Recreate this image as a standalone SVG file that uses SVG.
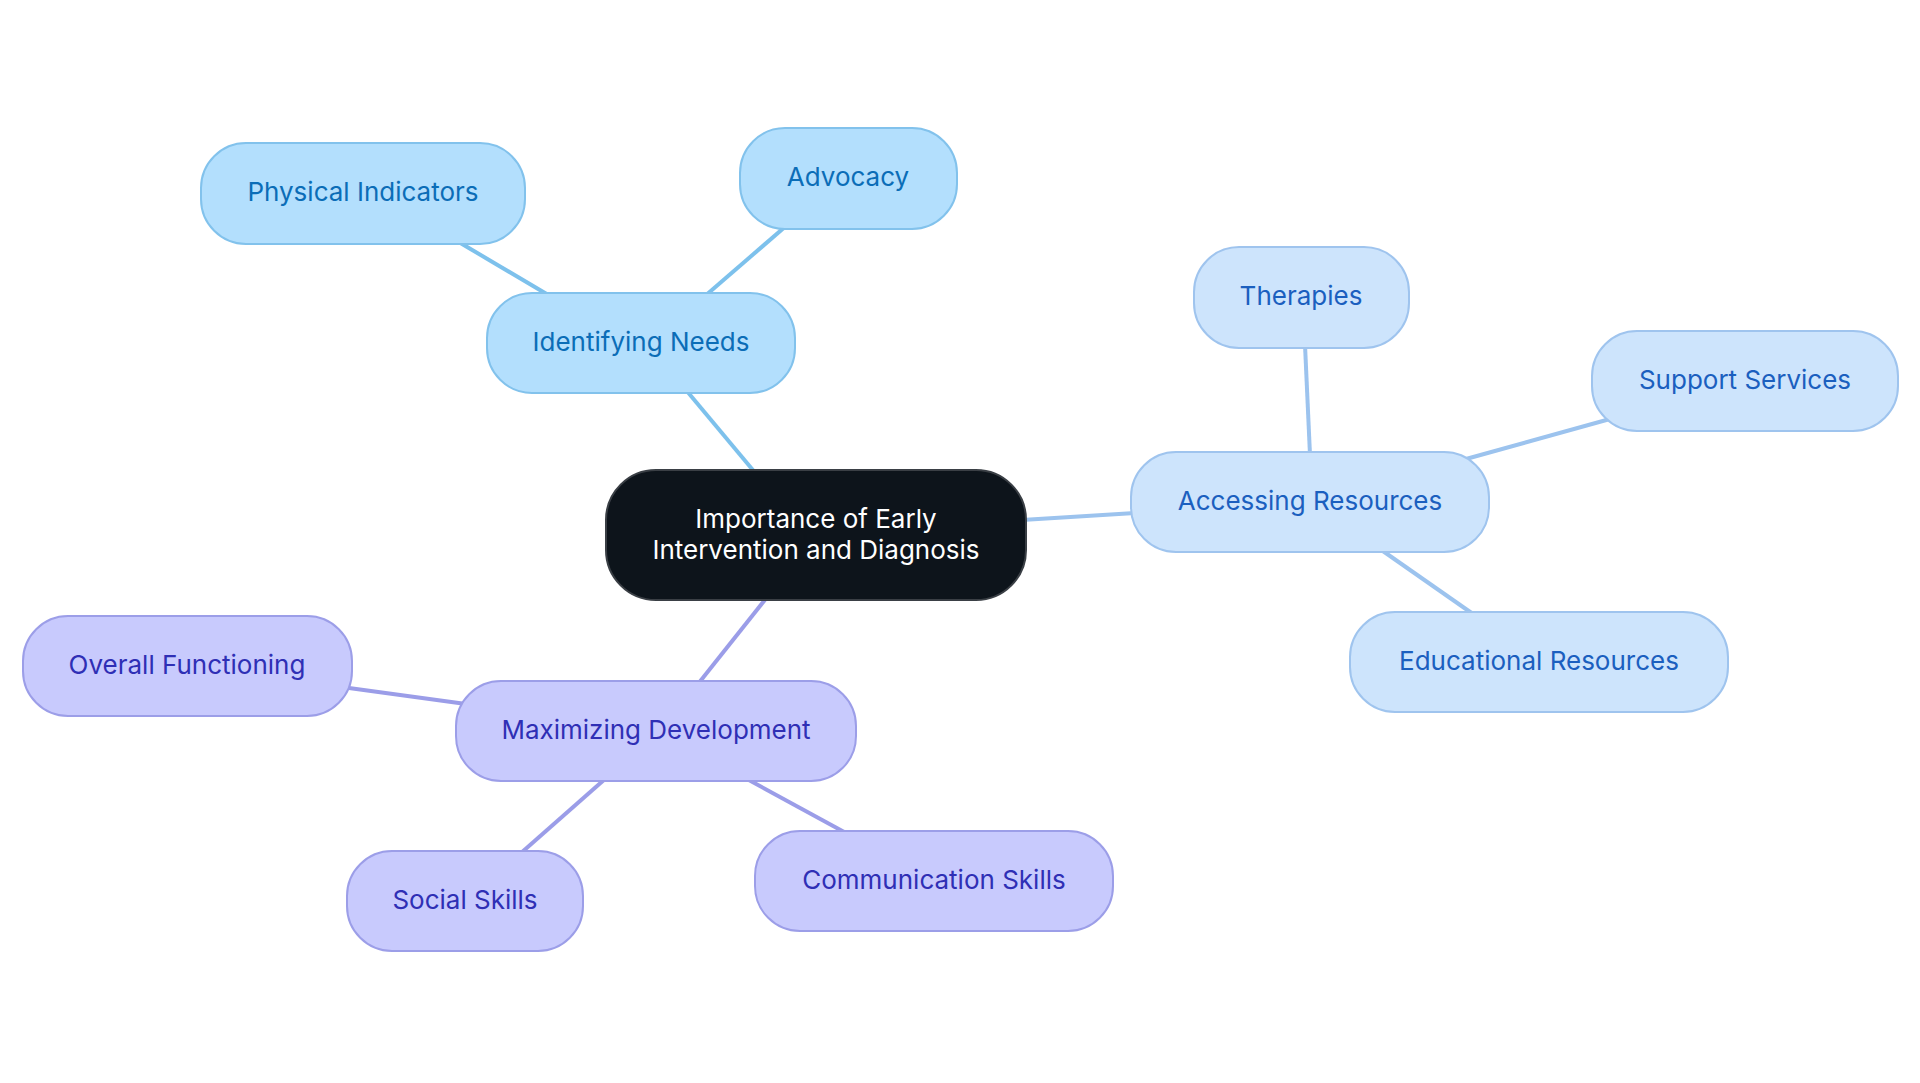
<svg xmlns="http://www.w3.org/2000/svg" width="1920" height="1083" viewBox="0 0 1920 1083">
<style>
text{font-family:Inter,"Noto Sans","Liberation Sans",sans-serif;font-size:26px;text-anchor:middle}
.b rect{fill:#b3dffd;stroke:#82c2ec;stroke-width:2}
.b text{fill:#0b6db7}
.a rect{fill:#cde4fc;stroke:#9fc4ee;stroke-width:2}
.a text{fill:#1b5fbf}
.p rect{fill:#c8cafd;stroke:#9c9ee8;stroke-width:2}
.p text{fill:#2f2fb5}
.eb{stroke:#7dc1ec}
.ea{stroke:#9cc3ee}
.ep{stroke:#9b9de8}
#connectors line{stroke-width:4;fill:none}
</style>
<rect width="1920" height="1083" fill="#ffffff"/>
<g id="connectors">
<line class="eb" x1="757" y1="475" x2="686" y2="390"/>
<line class="eb" x1="550" y1="296" x2="457" y2="241"/>
<line class="eb" x1="705" y1="296" x2="786" y2="226"/>
<line class="ea" x1="1022" y1="520" x2="1135" y2="513"/>
<line class="ea" x1="1310" y1="455" x2="1305" y2="345"/>
<line class="ea" x1="1466" y1="459" x2="1610" y2="419"/>
<line class="ea" x1="1380" y1="549" x2="1473" y2="614"/>
<line class="ep" x1="768" y1="596" x2="698" y2="684"/>
<line class="ep" x1="466" y1="704" x2="349" y2="688"/>
<line class="ep" x1="605" y1="779" x2="521" y2="853"/>
<line class="ep" x1="747" y1="779" x2="846" y2="833"/>
</g>
<g id="center">
<rect x="606" y="470" width="420" height="130" rx="50" fill="#0d141b" stroke="#3a3f45" stroke-width="2"/>
<text x="816" y="528" fill="#ffffff">Importance of Early</text>
<text x="816" y="559" fill="#ffffff">Intervention and Diagnosis</text>
</g>
<g id="identifying-needs" class="b">
<rect x="487" y="293" width="308" height="100" rx="45"/>
<text x="641" y="351">Identifying Needs</text>
</g>
<g id="physical-indicators" class="b">
<rect x="201" y="143" width="324" height="101" rx="45"/>
<text x="363" y="201">Physical Indicators</text>
</g>
<g id="advocacy" class="b">
<rect x="740" y="128" width="217" height="101" rx="45"/>
<text x="848" y="186">Advocacy</text>
</g>
<g id="accessing-resources" class="a">
<rect x="1131" y="452" width="358" height="100" rx="45"/>
<text x="1310" y="510">Accessing Resources</text>
</g>
<g id="therapies" class="a">
<rect x="1194" y="247" width="215" height="101" rx="45"/>
<text x="1301" y="305">Therapies</text>
</g>
<g id="support-services" class="a">
<rect x="1592" y="331" width="306" height="100" rx="45"/>
<text x="1745" y="389">Support Services</text>
</g>
<g id="educational-resources" class="a">
<rect x="1350" y="612" width="378" height="100" rx="45"/>
<text x="1539" y="670">Educational Resources</text>
</g>
<g id="maximizing-development" class="p">
<rect x="456" y="681" width="400" height="100" rx="45"/>
<text x="656" y="739">Maximizing Development</text>
</g>
<g id="overall-functioning" class="p">
<rect x="23" y="616" width="329" height="100" rx="45"/>
<text x="187" y="674">Overall Functioning</text>
</g>
<g id="social-skills" class="p">
<rect x="347" y="851" width="236" height="100" rx="45"/>
<text x="465" y="909">Social Skills</text>
</g>
<g id="communication-skills" class="p">
<rect x="755" y="831" width="358" height="100" rx="45"/>
<text x="934" y="889">Communication Skills</text>
</g>
</svg>
